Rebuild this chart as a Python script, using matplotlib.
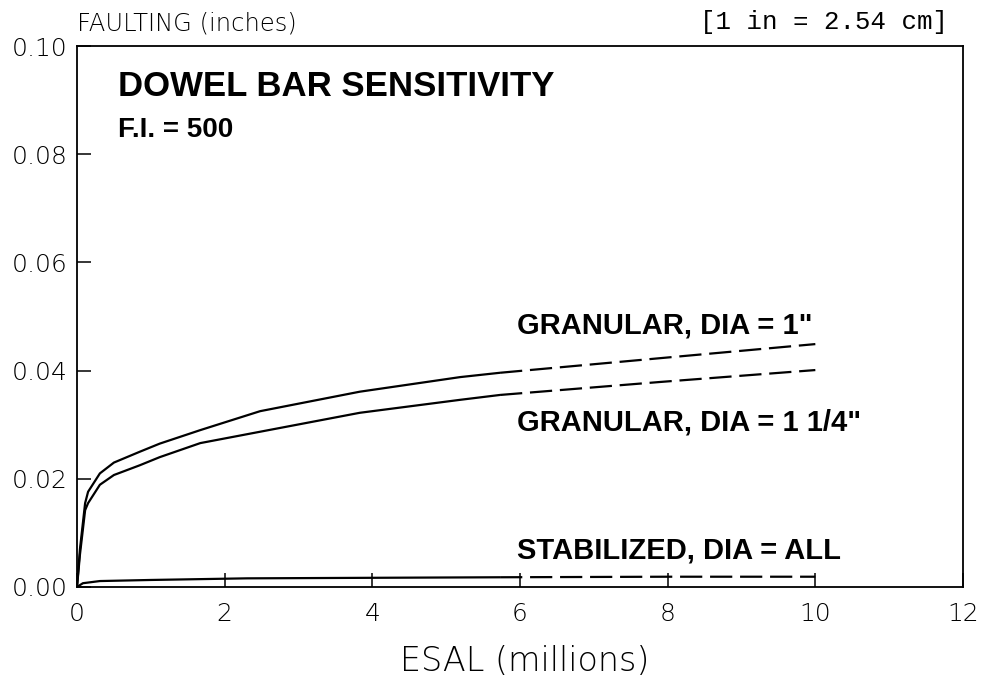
import matplotlib
matplotlib.use("Agg")
import matplotlib.pyplot as plt
import numpy as np

# values (ESAL in millions, faulting in inches)
esal = [0, 0.04, 0.11, 0.15, 0.31, 0.5, 0.85, 1.12, 1.67, 2.48, 3.83, 5.19, 5.73, 7.9, 10]
gran_1 = [0, 0.007, 0.0155, 0.0176, 0.021, 0.023, 0.025, 0.0265, 0.029, 0.0325, 0.0361, 0.0388, 0.0396, 0.0423, 0.0449]
gran_114 = [0, 0.006, 0.0142, 0.0155, 0.0189, 0.0207, 0.0225, 0.0240, 0.0266, 0.0287, 0.0322, 0.0346, 0.0355, 0.0379, 0.0401]

esal_stab = [0, 0.08, 0.31, 1, 2.3, 4, 5.73, 8, 10]
stab = [0, 0.0007, 0.0011, 0.0013, 0.0016, 0.0017, 0.0018, 0.0019, 0.0019]

x_ticks = [0, 2, 4, 6, 8, 10, 12]
y_ticks = [0.00, 0.02, 0.04, 0.06, 0.08, 0.10]
split_x = 5.73  # curves turn into a broken line past this point

light = dict(family="DejaVu Sans", fontweight="light")
bold = dict(family="Liberation Sans", fontweight="bold")

fig = plt.figure(figsize=(9.84, 6.81), dpi=100)
ax = fig.add_axes([77/984, 1-587/681, (963-77)/984, (587-46)/681])


def draw(xs, ys):
    xs = np.array(xs)
    ys = np.array(ys)
    k = np.searchsorted(xs, split_x) + 1
    ax.plot(xs[:k], ys[:k], color="black", lw=1.6, solid_capstyle="butt")
    ax.plot(xs[k-1:], ys[k-1:], color="black", lw=1.6, dashes=(10, 3.5))


draw(esal, gran_1)
draw(esal, gran_114)
draw(esal_stab, stab)

ax.set_xlim(0, 12)
ax.set_ylim(0, 0.10)
ax.set_xticks(x_ticks)
ax.set_yticks(y_ticks)
ax.set_yticklabels([f"{v:.2f}" for v in y_ticks])
ax.tick_params(direction="in", length=10, width=1.1, labelsize=18)
ax.tick_params(axis="y", pad=7)
ax.tick_params(axis="x", pad=11)
for lab in ax.get_xticklabels() + ax.get_yticklabels():
    lab.set_family("DejaVu Sans")
    lab.set_fontweight("light")
for s in ax.spines.values():
    s.set_linewidth(1.3)

ax.text(0.555, 0.0908, "DOWEL BAR SENSITIVITY", fontsize=25, va="baseline", **bold)
ax.text(0.555, 0.0832, "F.I. = 500", fontsize=20, va="baseline", **bold)
ax.text(5.96, 0.04695, "GRANULAR, DIA = 1\"", fontsize=21, va="baseline", **bold)
ax.text(5.96, 0.02884, "GRANULAR, DIA = 1 1/4\"", fontsize=21, va="baseline", **bold)
ax.text(5.96, 0.00518, "STABILIZED, DIA = ALL", fontsize=21, va="baseline", **bold)

fig.text(77/984, 1-30/681, "FAULTING (inches)", fontsize=17.5, va="baseline", **light)
fig.text(948/984, 1-29/681, "[1 in = 2.54 cm]", fontsize=18.5, va="baseline", ha="right",
         family="Liberation Mono")
fig.text(525/984, 1-671/681, "ESAL (millions)", fontsize=24, va="baseline", ha="center", **light)

fig.savefig("out.png", dpi=100)
